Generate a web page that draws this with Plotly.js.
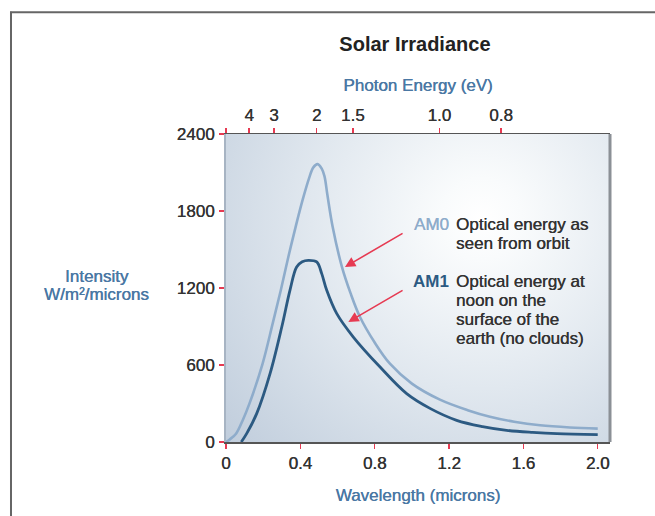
<!DOCTYPE html>
<html><head><meta charset="utf-8">
<script src="https://cdn.plot.ly/plotly-3.0.1.min.js"></script>
<style>html,body{margin:0;padding:0;background:#fff;}#chart{width:655px;height:516px;}</style>
</head><body><div id="chart"></div>
<script>
// ---- data ----
const wavelengthAM0 = [0.0, 0.02, 0.054, 0.09, 0.126, 0.197, 0.251, 0.296, 0.335, 0.377, 0.413, 0.448, 0.47, 0.493, 0.515, 0.53, 0.545, 0.574, 0.623, 0.67, 0.721, 0.8, 0.882, 1.0, 1.151, 1.3, 1.42, 1.55, 1.69, 1.85, 2.0];
const irradianceAM0 = [0, 20, 65, 170, 299, 611, 922, 1190, 1440, 1690, 1890, 2060, 2140, 2165, 2130, 2070, 1930, 1675, 1369, 1160, 974, 775, 610, 455, 330, 248, 197, 158, 130, 113, 104];
const wavelengthAM1 = [0.082, 0.111, 0.165, 0.237, 0.3, 0.344, 0.38, 0.41, 0.443, 0.488, 0.515, 0.542, 0.596, 0.685, 0.829, 0.972, 1.1, 1.241, 1.38, 1.51, 1.65, 1.78, 2.0];
const irradianceAM1 = [0, 65, 221, 533, 896, 1182, 1364, 1405, 1416, 1403, 1312, 1182, 1000, 818, 584, 377, 260, 169, 120, 91, 75, 65, 58];
const wavelengthTicks = [0, 0.4, 0.8, 1.2, 1.6, 2.0];
const wavelengthTickLabels = ['0', '0.4', '0.8', '1.2', '1.6', '2.0'];
const intensityTicks = [0, 600, 1200, 1800, 2400];
const energyTickLabels = ['', '4', '3', '2', '1.5', '1.0', '0.8'];
const energyTickWavelengths = [0, 0.125, 0.258, 0.488, 0.682, 1.148, 1.48];
const seriesNames = ['AM0', 'AM1'];
const seriesNotes = [['Optical energy as', 'seen from orbit'], ['Optical energy at', 'noon on the', 'surface of the', 'earth (no clouds)']];
// arrow [head wavelength, head intensity, tail wavelength, tail intensity]
const arrowAM0 = [0.640, 1364, 0.958, 1632];
const arrowAM1 = [0.658, 935, 0.958, 1188];

// ---- styles ----
const FONT = 'Liberation Sans, Arial, Helvetica, sans-serif';
const RED = '#e63a52';
const BLUE_TITLE = '#4a78a4';
const AM0_COLOR = '#8eaccb';
const AM1_COLOR = '#2c5a82';
const XMAX = 2.066;

function thick(c) { return '0.35px 0 0 ' + c; }

// radial gradient background for the plot area
function gradientURL() {
  const c = document.createElement('canvas');
  c.width = 384; c.height = 308;
  const g = c.getContext('2d');
  const grd = g.createRadialGradient(255, 85, 0, 255, 85, 340);
  grd.addColorStop(0, '#ffffff');
  grd.addColorStop(0.12, '#f9fbfc');
  grd.addColorStop(0.5, '#e1e8ef');
  grd.addColorStop(1, '#c0cddc');
  g.fillStyle = grd;
  g.fillRect(0, 0, 384, 308);
  return c.toDataURL('image/png');
}

const traces = [
  {x: wavelengthAM0, y: irradianceAM0, name: seriesNames[0], mode: 'lines',
   line: {color: AM0_COLOR, width: 2.6, shape: 'spline', smoothing: 1}, hoverinfo: 'skip'},
  {x: wavelengthAM1, y: irradianceAM1, name: seriesNames[1], mode: 'lines',
   line: {color: AM1_COLOR, width: 2.8, shape: 'spline', smoothing: 1}, hoverinfo: 'skip'},
  {x: wavelengthAM0, y: irradianceAM0, xaxis: 'x2', mode: 'lines', opacity: 0,
   line: {width: 0}, hoverinfo: 'skip', showlegend: false}
];

const tickFont = {family: FONT, size: 17, color: '#333', shadow: thick('#333')};
const blueFont = {family: FONT, size: 17, color: BLUE_TITLE, shadow: thick(BLUE_TITLE)};
const annotations = [];
// y title
annotations.push({xref: 'paper', yref: 'paper', x: -0.336, y: 0.538, text: 'Intensity', showarrow: false,
  font: blueFont, xanchor: 'center', yanchor: 'middle'});
annotations.push({xref: 'paper', yref: 'paper', x: -0.338, y: 0.48, text: 'W/m²/microns', showarrow: false,
  font: blueFont, xanchor: 'center', yanchor: 'middle'});
// series labels
annotations.push({x: 1.003, y: 1696, text: seriesNames[0], showarrow: false, xanchor: 'left', yanchor: 'middle',
  font: {family: FONT, size: 17, color: AM0_COLOR, shadow: thick(AM0_COLOR)}});
annotations.push({x: 0.998, y: 1248, text: '<b>' + seriesNames[1] + '</b>', showarrow: false, xanchor: 'left', yanchor: 'middle',
  font: {family: FONT, size: 17, color: AM1_COLOR}});
const noteY = [[1696, 1548], [1248, 1105, 954, 803]];
seriesNotes.forEach((lines, i) => lines.forEach((t, j) => {
  annotations.push({x: 1.226, y: noteY[i][j], text: t, showarrow: false, xanchor: 'left', yanchor: 'middle',
    font: tickFont});
}));
[arrowAM0, arrowAM1].forEach(a => annotations.push({
  x: a[0], y: a[1], ax: a[2], ay: a[3], axref: 'x', ayref: 'y', text: '', showarrow: true,
  arrowhead: 2, arrowsize: 1.3, arrowwidth: 1.6, arrowcolor: RED
}));

const layout = {
  width: 655, height: 516,
  margin: {l: 226, r: 45, t: 134, b: 74, pad: 0},
  paper_bgcolor: '#ffffff', plot_bgcolor: 'rgba(0,0,0,0)',
  showlegend: false,
  title: {text: 'Solar Irradiance', font: {family: FONT, size: 20, color: '#222', weight: 'bold'},
    xref: 'paper', x: 0.492, xanchor: 'center', yref: 'container', y: 0.915, yanchor: 'middle'},
  xaxis: {range: [0, XMAX], tickvals: wavelengthTicks, ticktext: wavelengthTickLabels, ticks: 'outside',
    ticklen: 5, tickwidth: 1.5, tickcolor: RED, tickfont: tickFont, showgrid: false, zeroline: false,
    showline: true, linecolor: '#555', linewidth: 2,
    title: {text: 'Wavelength (microns)', font: blueFont, standoff: 17}},
  xaxis2: {range: [0, XMAX], overlaying: 'x', side: 'top', tickvals: energyTickWavelengths, ticktext: energyTickLabels,
    ticks: 'outside', ticklen: 5, tickwidth: 1.5, tickcolor: RED, tickfont: tickFont, showgrid: false, zeroline: false,
    showline: true, linecolor: '#555', linewidth: 1.5,
    title: {text: 'Photon Energy (eV)', font: blueFont, standoff: 10}},
  yaxis: {range: [0, 2400], tickvals: intensityTicks, ticks: 'outside', ticklen: 5, tickwidth: 1.5, tickcolor: RED,
    tickfont: tickFont, showgrid: false, zeroline: false, showline: true, linecolor: '#a7b4c3', linewidth: 2,
    ticklabelstandoff: 1},
  images: [{source: gradientURL(), xref: 'paper', yref: 'paper', x: 0, y: 1, sizex: 1, sizey: 1,
    sizing: 'stretch', xanchor: 'left', yanchor: 'top', layer: 'below'}],
  shapes: [
    {type: 'line', xref: 'paper', yref: 'paper', x0: 1.0, x1: 1.0, y0: 0, y1: 1, line: {color: '#8b9096', width: 3}},
    {type: 'line', xref: 'paper', yref: 'paper', x0: -0.5599, x1: -0.5599, y0: 1.397, y1: -0.25, line: {color: '#666', width: 2}},
    {type: 'line', xref: 'paper', yref: 'paper', x0: -0.5625, x1: 1.12, y0: 1.395, y1: 1.395, line: {color: '#666', width: 2}}
  ],
  annotations: annotations
};

Plotly.newPlot('chart', traces, layout, {displayModeBar: false, staticPlot: true});
</script>
</body></html>
